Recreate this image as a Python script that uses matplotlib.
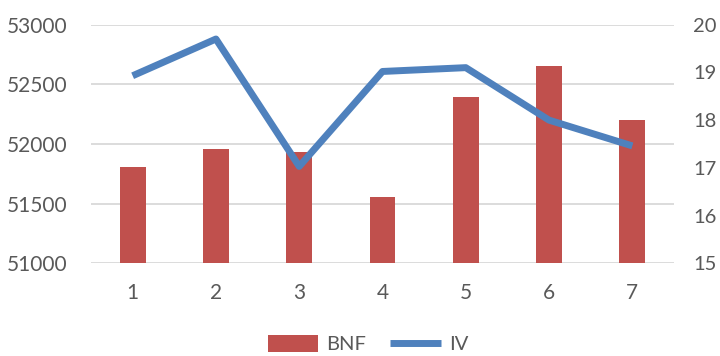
import matplotlib.pyplot as plt
import numpy as np

categories = ['1', '2', '3', '4', '5', '6', '7']
bnf = [51807, 51958, 51933, 51556, 52394, 52654, 52200]
iv = [18.93, 19.70, 17.03, 19.02, 19.10, 18.00, 17.46]

plt.rcParams['font.family'] = ['Lato', 'DejaVu Sans']
txt_color = '#595959'

fig = plt.figure(figsize=(7.2, 3.56), dpi=100)
ax = fig.add_axes([91/720, 1 - 263.3/356, (674 - 91)/720, (263.3 - 24.7)/356])
ax2 = ax.twinx()

x = np.arange(len(categories))
ax.bar(x, [v - 51000 for v in bnf], width=0.31, bottom=51000, color='#C0504D', label='BNF', zorder=3)
ax2.plot(x, iv, color='#4F81BD', linewidth=5.0, label='IV', solid_capstyle='butt', zorder=4)

ax.set_xlim(-0.5, 6.5)
ax.set_ylim(51000, 53000)
ax.set_yticks(np.arange(51000, 53001, 500))
ax2.set_ylim(15, 20)
ax2.set_yticks(np.arange(15, 21, 1))
ax.set_xticks(x)
ax.set_xticklabels(categories)

ax.grid(axis='y', color='#D9D9D9', linewidth=1.3, zorder=0)
ax.set_axisbelow(True)
for a in (ax, ax2):
    for s in a.spines.values():
        s.set_visible(False)
ax.tick_params(axis='y', length=0, pad=17, labelsize=15, labelcolor=txt_color)
ax.tick_params(axis='x', length=0, pad=14, labelsize=15, labelcolor=txt_color)
ax2.tick_params(axis='y', length=0, pad=14, labelsize=14.5, labelcolor=txt_color)

h1, l1 = ax.get_legend_handles_labels()
h2, l2 = ax2.get_legend_handles_labels()
fig.legend(h1 + h2, l1 + l2, loc='center', bbox_to_anchor=(368/720, 1 - 344/356),
           ncol=2, frameon=False, fontsize=14.5, labelcolor=txt_color,
           handlelength=2.5, handleheight=0.9, handletextpad=0.4, columnspacing=1.2,
           borderpad=0)

fig.savefig('out.png', dpi=100)
